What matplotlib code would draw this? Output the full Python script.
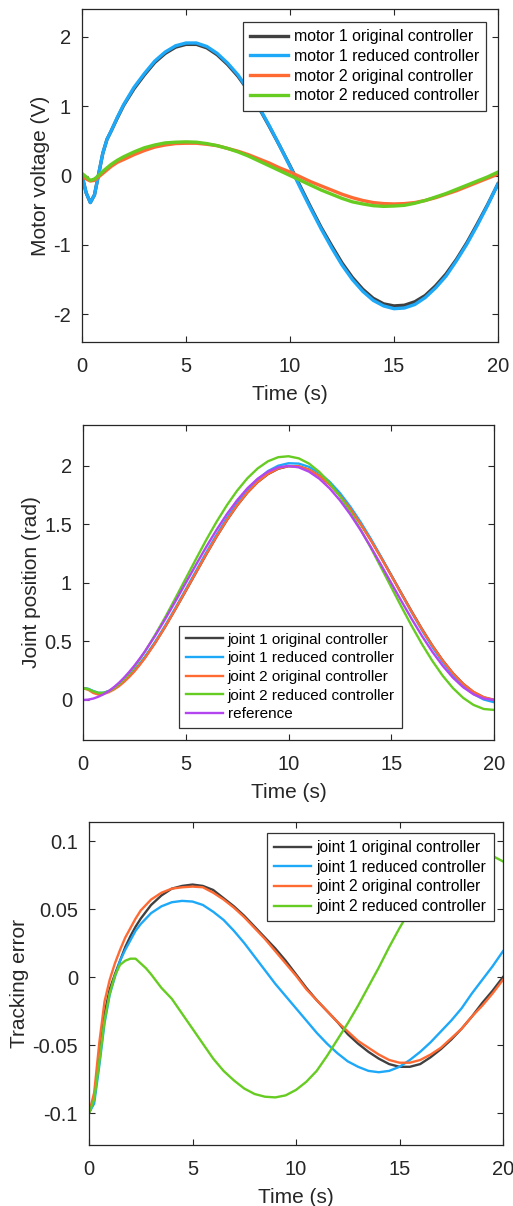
import matplotlib
matplotlib.use("Agg")
import matplotlib.pyplot as plt

plt.rcParams['font.family'] = ['Liberation Sans', 'DejaVu Sans']

# ---------------- Panel 1: motor voltage ----------------
t_v = [0, 0.2, 0.4, 0.6, 0.8, 1.0, 1.2, 1.4, 1.7, 2, 2.5, 3, 3.5, 4, 4.5, 5, 5.5, 6, 6.5, 7,
       7.5, 8, 8.5, 9, 9.5, 10, 10.5, 11, 11.5, 12, 12.5, 13, 13.5, 14, 14.5, 15, 15.5, 16,
       16.5, 17, 17.5, 18, 18.5, 19, 19.5, 20]
m1_orig = [0, -0.25, -0.39, -0.28, 0.02, 0.32, 0.52, 0.64, 0.83, 1.01, 1.25, 1.45, 1.63, 1.76,
           1.85, 1.89, 1.89, 1.84, 1.74, 1.60, 1.43, 1.22, 0.98, 0.71, 0.43, 0.14, -0.16, -0.46,
           -0.75, -1.01, -1.26, -1.47, -1.64, -1.77, -1.85, -1.88, -1.87, -1.82, -1.73, -1.59,
           -1.42, -1.21, -0.97, -0.70, -0.42, -0.12]
m1_red = [0, -0.25, -0.39, -0.28, 0.02, 0.32, 0.52, 0.64, 0.84, 1.02, 1.27, 1.47, 1.65, 1.78,
          1.87, 1.91, 1.91, 1.86, 1.76, 1.62, 1.45, 1.23, 0.99, 0.72, 0.43, 0.13, -0.18, -0.48,
          -0.77, -1.04, -1.29, -1.50, -1.67, -1.80, -1.88, -1.92, -1.91, -1.86, -1.76, -1.62,
          -1.45, -1.23, -0.99, -0.72, -0.43, -0.12]
m2_orig = [0.0, -0.05, -0.08, -0.07, -0.02, 0.03, 0.08, 0.13, 0.19, 0.23, 0.30, 0.36, 0.41, 0.44,
           0.46, 0.465, 0.465, 0.45, 0.43, 0.39, 0.35, 0.30, 0.24, 0.18, 0.11, 0.05, -0.02, -0.09,
           -0.15, -0.21, -0.27, -0.32, -0.36, -0.39, -0.405, -0.41, -0.405, -0.39, -0.36, -0.32,
           -0.27, -0.22, -0.16, -0.10, -0.04, 0.02]
m2_red = [0.03, -0.02, -0.07, -0.05, 0.00, 0.06, 0.11, 0.16, 0.22, 0.27, 0.34, 0.40, 0.44, 0.47,
          0.48, 0.485, 0.48, 0.46, 0.43, 0.39, 0.34, 0.28, 0.21, 0.14, 0.07, 0.00, -0.07, -0.14,
          -0.21, -0.27, -0.33, -0.38, -0.41, -0.435, -0.445, -0.44, -0.43, -0.40, -0.36, -0.31,
          -0.26, -0.20, -0.14, -0.08, -0.02, 0.05]
labels_v = ['motor 1 original controller', 'motor 1 reduced controller',
            'motor 2 original controller', 'motor 2 reduced controller']

# ---------------- Panel 2 & 3: joint position / tracking error ----------------
t_j = [0, 0.25, 0.5, 0.75, 1.0, 1.25, 1.5, 1.75, 2, 2.25, 2.5, 2.75, 3, 3.5, 4, 4.5, 5, 5.5,
       6, 6.5, 7, 7.5, 8, 8.5, 9, 9.5, 10, 10.5, 11, 11.5, 12, 12.5, 13, 13.5, 14, 14.5, 15,
       15.5, 16, 16.5, 17, 17.5, 18, 18.5, 19, 19.5, 20]
q_ref = [0, 0.003, 0.012, 0.028, 0.049, 0.076, 0.109, 0.147, 0.191, 0.240, 0.293, 0.351, 0.412,
         0.546, 0.691, 0.844, 1.0, 1.156, 1.309, 1.454, 1.588, 1.707, 1.809, 1.891, 1.951,
         1.988, 2.0, 1.988, 1.951, 1.891, 1.809, 1.707, 1.588, 1.454, 1.309, 1.156, 1.0, 0.844,
         0.691, 0.546, 0.412, 0.293, 0.191, 0.109, 0.049, 0.012, 0]
q1_orig = [0.100, 0.093, 0.070, 0.055, 0.058, 0.074, 0.097, 0.125, 0.161, 0.203, 0.250, 0.303,
           0.359, 0.486, 0.626, 0.777, 0.932, 1.089, 1.245, 1.396, 1.536, 1.662, 1.772, 1.862,
           1.930, 1.976, 1.998, 1.996, 1.968, 1.916, 1.842, 1.749, 1.637, 1.509, 1.369, 1.220,
           1.066, 0.910, 0.755, 0.605, 0.465, 0.339, 0.229, 0.138, 0.068, 0.022, 0.000]
q1_red = [0.100, 0.096, 0.077, 0.062, 0.062, 0.076, 0.097, 0.127, 0.164, 0.206, 0.254, 0.308,
          0.365, 0.494, 0.636, 0.788, 0.945, 1.103, 1.261, 1.412, 1.554, 1.682, 1.794, 1.886,
          1.956, 2.002, 2.023, 2.020, 1.992, 1.940, 1.865, 1.769, 1.654, 1.523, 1.379, 1.225,
          1.066, 0.905, 0.746, 0.594, 0.452, 0.325, 0.214, 0.121, 0.051, 0.004, -0.019]
q2_orig = [0.100, 0.088, 0.060, 0.046, 0.051, 0.066, 0.089, 0.118, 0.155, 0.197, 0.244, 0.298,
           0.355, 0.484, 0.626, 0.778, 0.934, 1.090, 1.247, 1.397, 1.537, 1.663, 1.773, 1.863,
           1.932, 1.978, 1.999, 1.997, 1.968, 1.916, 1.842, 1.747, 1.635, 1.506, 1.366, 1.217,
           1.063, 0.907, 0.752, 0.603, 0.464, 0.338, 0.229, 0.138, 0.070, 0.024, 0.002]
q2_red = [0.100, 0.093, 0.074, 0.060, 0.061, 0.075, 0.100, 0.135, 0.178, 0.226, 0.283, 0.344,
          0.409, 0.554, 0.707, 0.871, 1.038, 1.205, 1.369, 1.523, 1.664, 1.789, 1.895, 1.979,
          2.040, 2.075, 2.083, 2.065, 2.020, 1.949, 1.855, 1.741, 1.609, 1.461, 1.302, 1.134,
          0.964, 0.795, 0.631, 0.476, 0.334, 0.208, 0.102, 0.018, -0.042, -0.077, -0.085]
labels_q = ['joint 1 original controller', 'joint 1 reduced controller',
            'joint 2 original controller', 'joint 2 reduced controller', 'reference']

e1_orig = [-0.100, -0.090, -0.058, -0.027, -0.009, 0.002, 0.012, 0.022, 0.030, 0.037, 0.043,
           0.048, 0.053, 0.060, 0.065, 0.067, 0.068, 0.067, 0.064, 0.058, 0.052, 0.045, 0.037,
           0.029, 0.021, 0.012, 0.002, -0.008, -0.017, -0.025, -0.033, -0.042, -0.049, -0.055,
           -0.060, -0.064, -0.066, -0.066, -0.064, -0.059, -0.053, -0.046, -0.038, -0.029,
           -0.019, -0.010, 0.000]
e1_red = [-0.100, -0.093, -0.065, -0.034, -0.013, 0.000, 0.012, 0.020, 0.027, 0.034, 0.039,
          0.043, 0.047, 0.052, 0.055, 0.056, 0.0555, 0.053, 0.048, 0.042, 0.034, 0.025, 0.015,
          0.005, -0.005, -0.014, -0.023, -0.032, -0.041, -0.049, -0.056, -0.062, -0.066,
          -0.069, -0.070, -0.069, -0.066, -0.061, -0.055, -0.048, -0.040, -0.032, -0.023,
          -0.012, -0.002, 0.008, 0.019]
e2_orig = [-0.100, -0.085, -0.048, -0.018, -0.002, 0.010, 0.020, 0.029, 0.036, 0.043, 0.049,
           0.053, 0.057, 0.062, 0.065, 0.066, 0.0665, 0.066, 0.062, 0.057, 0.051, 0.044, 0.036,
           0.028, 0.019, 0.010, 0.001, -0.009, -0.017, -0.025, -0.033, -0.040, -0.047, -0.052,
           -0.057, -0.061, -0.063, -0.063, -0.061, -0.057, -0.052, -0.045, -0.038, -0.029,
           -0.021, -0.012, -0.002]
e2_red = [-0.100, -0.090, -0.062, -0.032, -0.012, 0.001, 0.009, 0.012, 0.0135, 0.0135, 0.010,
          0.0065, 0.002, -0.008, -0.016, -0.027, -0.038, -0.049, -0.060, -0.069, -0.076,
          -0.082, -0.086, -0.088, -0.0885, -0.087, -0.083, -0.077, -0.069, -0.058, -0.046,
          -0.034, -0.021, -0.007, 0.007, 0.022, 0.036, 0.049, 0.060, 0.070, 0.078, 0.085,
          0.089, 0.091, 0.091, 0.089, 0.085]
labels_e = ['joint 1 original controller', 'joint 1 reduced controller',
            'joint 2 original controller', 'joint 2 reduced controller']

C_BLACK = '#404040'
C_BLUE = '#1ea8f8'
C_ORANGE = '#ff6a33'
C_GREEN = '#66cc22'
C_PURPLE = '#b446f0'

W, H = 513, 1206
fig = plt.figure(figsize=(W / 100, H / 100), dpi=100)


def make_axes(left, top, right, bottom):
    return fig.add_axes([left / W, 1 - bottom / H, (right - left) / W, (bottom - top) / H])


def style(ax, xlabel, ylabel, yticks, yticklabels, ylim):
    ax.set_xlim(0, 20)
    ax.set_ylim(*ylim)
    ax.set_xticks([0, 5, 10, 15, 20])
    ax.set_xticklabels(['0', '5', '10', '15', '20'])
    ax.set_yticks(yticks)
    ax.set_yticklabels(yticklabels)
    ax.tick_params(direction='in', length=4, width=0.8, top=True, right=True,
                   labelsize=14.5, colors='#262626')
    ax.tick_params(axis='x', pad=11)
    ax.tick_params(axis='y', pad=8)
    for s in ax.spines.values():
        s.set_linewidth(0.9)
        s.set_color('#262626')
    ax.set_xlabel(xlabel, fontsize=15, color='#262626', labelpad=6)
    ax.set_ylabel(ylabel, fontsize=15, color='#262626', labelpad=2)


def add_legend(ax, loc, anchor, fs):
    leg = ax.legend(loc=loc, bbox_to_anchor=anchor, fontsize=fs, frameon=True,
                    fancybox=False, framealpha=1, edgecolor='#333333', borderpad=0.45,
                    labelspacing=0.3, handlelength=2.4, handletextpad=0.35,
                    borderaxespad=0)
    leg.get_frame().set_linewidth(0.9)
    return leg


# Panel 1
ax1 = make_axes(82, 9, 498, 342)
ax1.plot(t_v, m1_orig, color=C_BLACK, lw=2.4, label=labels_v[0])
ax1.plot(t_v, m1_red, color=C_BLUE, lw=2.4, label=labels_v[1])
ax1.plot(t_v, m2_orig, color=C_ORANGE, lw=2.4, label=labels_v[2])
ax1.plot(t_v, m2_red, color=C_GREEN, lw=2.4, label=labels_v[3])
style(ax1, 'Time (s)', 'Motor voltage (V)', [-2, -1, 0, 1, 2], ['-2', '-1', '0', '1', '2'],
      (-2.4, 2.4))
add_legend(ax1, 'upper left', ((243 - 82) / 416, 1 - (22 - 9) / 333), 11.4)

# Panel 2
ax2 = make_axes(83, 425, 494, 740)
ax2.plot(t_j, q1_orig, color=C_BLACK, lw=1.7, label=labels_q[0])
ax2.plot(t_j, q1_red, color=C_BLUE, lw=1.7, label=labels_q[1])
ax2.plot(t_j, q2_orig, color=C_ORANGE, lw=1.7, label=labels_q[2])
ax2.plot(t_j, q2_red, color=C_GREEN, lw=1.7, label=labels_q[3])
ax2.plot(t_j, q_ref, color=C_PURPLE, lw=1.7, label=labels_q[4])
style(ax2, 'Time (s)', 'Joint position (rad)', [0, 0.5, 1, 1.5, 2],
      ['0', '0.5', '1', '1.5', '2'], (-0.342, 2.35))
add_legend(ax2, 'lower left', ((179 - 83) / 411, (740 - 728) / 315), 11.0)

# Panel 3
ax3 = make_axes(89, 822, 503, 1145)
ax3.plot(t_j, e1_orig, color=C_BLACK, lw=1.7, label=labels_e[0])
ax3.plot(t_j, e1_red, color=C_BLUE, lw=1.7, label=labels_e[1])
ax3.plot(t_j, e2_orig, color=C_ORANGE, lw=1.7, label=labels_e[2])
ax3.plot(t_j, e2_red, color=C_GREEN, lw=1.7, label=labels_e[3])
style(ax3, 'Time (s)', 'Tracking error', [-0.1, -0.05, 0, 0.05, 0.1],
      ['-0.1', '-0.05', '0', '0.05', '0.1'], (-0.1235, 0.114))
add_legend(ax3, 'upper left', ((267 - 89) / 414, 1 - (833 - 822) / 323), 11.2)

fig.savefig('out.png', dpi=100)
